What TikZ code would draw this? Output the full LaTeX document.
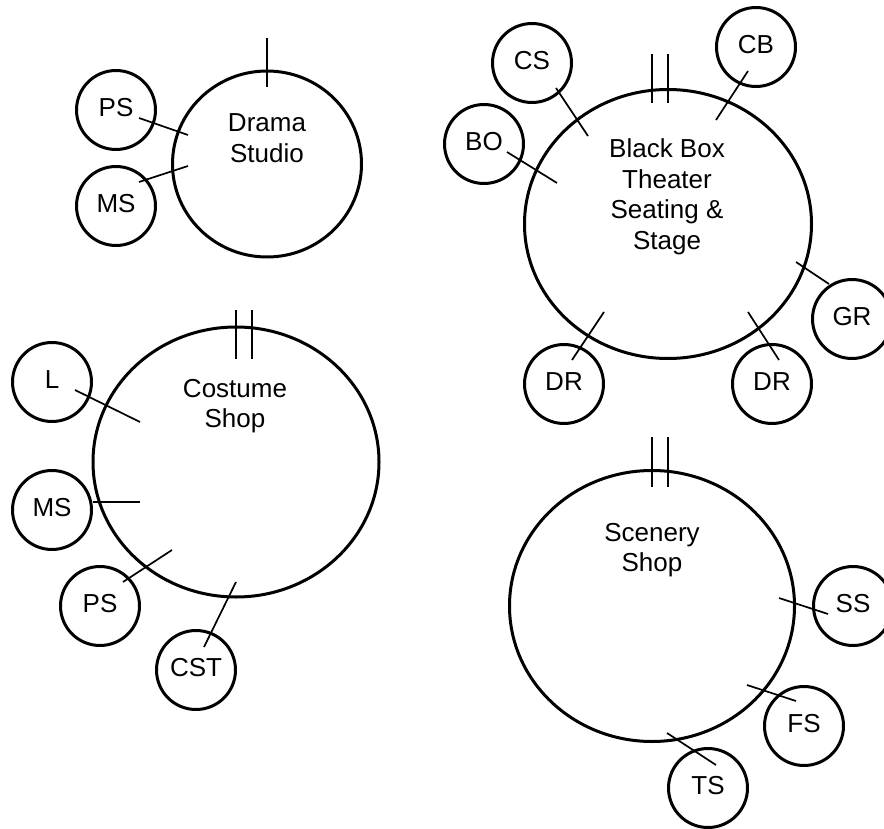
\documentclass[tikz,border=0pt]{standalone}
\usepackage{fontspec}
\setmainfont{Liberation Sans}
\usetikzlibrary{shapes.geometric}
\begin{document}
\begin{tikzpicture}[x=1pt,y=-1pt,
  small/.style={draw,circle,line width=3pt,minimum size=79pt,inner sep=0pt,
    font=\fontsize{26}{30.5}\selectfont,text height=18pt,text depth=5pt},
  big/.style={draw,ellipse,line width=3pt,inner sep=0pt},
  lbl/.style={align=center,font=\fontsize{26}{30.5}\selectfont,inner sep=0pt},
  conn/.style={line width=1.7pt},
  tick/.style={line width=1.7pt}]
\useasboundingbox (0,0) rectangle (884,829);
% Drama Studio
\node[big,minimum width=189pt,minimum height=186pt] (ds) at (267,164) {};
\node[lbl] (dst) at (267,138) {Drama\\Studio};
\node[small] (ps1) at (116,110) {PS};
\node[small] (ms1) at (116,206) {MS};
\draw[tick] ([shift={(0,-126)}]ds.center) -- ([shift={(0,-77)}]ds.center);
\draw[conn] ([shift={(23,8)}]ps1.center) -- ([shift={(-79,-29)}]ds.center);
\draw[conn] ([shift={(23,-24)}]ms1.center) -- ([shift={(-79,2)}]ds.center);
% Black Box Theater
\node[big,minimum width=287pt,minimum height=269pt] (bbt) at (668,224) {};
\node[lbl] (bbtt) at (667,197) {Black Box\\Theater\\Seating \&\\Stage};
\node[small] (cs) at (532,63) {CS};
\node[small] (cb) at (756,47) {CB};
\node[small] (bo) at (484,144) {BO};
\node[small] (gr) at (852,319) {GR};
\node[small] (drl) at (564,384) {DR};
\node[small] (drr) at (772,384) {DR};
\draw[tick] ([shift={(-16,-170)}]bbt.center) -- ([shift={(-16,-121)}]bbt.center);
\draw[tick] ([shift={(0,-170)}]bbt.center) -- ([shift={(0,-121)}]bbt.center);
\draw[conn] ([shift={(24,25)}]cs.center) -- ([shift={(-80,-88)}]bbt.center);
\draw[conn] ([shift={(-8,24)}]cb.center) -- ([shift={(48,-104)}]bbt.center);
\draw[conn] ([shift={(23,8)}]bo.center) -- ([shift={(-111,-41)}]bbt.center);
\draw[conn] ([shift={(-23,-35)}]gr.center) -- ([shift={(128,38)}]bbt.center);
\draw[conn] ([shift={(8,-24)}]drl.center) -- ([shift={(-64,88)}]bbt.center);
\draw[conn] ([shift={(7,-24)}]drr.center) -- ([shift={(80,88)}]bbt.center);
% Costume Shop
\node[big,minimum width=286pt,minimum height=270pt] (csh) at (236,462) {};
\node[lbl] (csht) at (235,406) {Costume\\Shop};
\node[small] (l) at (52,382) {L};
\node[small] (ms2) at (52,510) {MS};
\node[small] (ps2) at (100,606) {PS};
\node[small] (cst) at (196,670) {CST};
\draw[tick] ([shift={(0,-152)}]csh.center) -- ([shift={(0,-103)}]csh.center);
\draw[tick] ([shift={(16,-152)}]csh.center) -- ([shift={(16,-103)}]csh.center);
\draw[conn] ([shift={(23,8)}]l.center) -- ([shift={(-96,-40)}]csh.center);
\draw[conn] ([shift={(41,-8)}]ms2.center) -- ([shift={(-96,40)}]csh.center);
\draw[conn] ([shift={(23,-24)}]ps2.center) -- ([shift={(-64,88)}]csh.center);
\draw[conn] ([shift={(8,-23)}]cst.center) -- ([shift={(0,120)}]csh.center);
% Scenery Shop
\node[big,minimum width=285pt,minimum height=271pt] (scs) at (652,606) {};
\node[lbl] (scst) at (652,550) {Scenery\\Shop};
\node[small] (ss) at (853,606) {SS};
\node[small] (fs) at (804,726) {FS};
\node[small] (ts) at (708,788) {TS};
\draw[tick] ([shift={(0,-169)}]scs.center) -- ([shift={(0,-119)}]scs.center);
\draw[tick] ([shift={(16,-169)}]scs.center) -- ([shift={(16,-119)}]scs.center);
\draw[conn] ([shift={(-25,8)}]ss.center) -- ([shift={(127,-8)}]scs.center);
\draw[conn] ([shift={(-8,-25)}]fs.center) -- ([shift={(95,79)}]scs.center);
\draw[conn] ([shift={(8,-23)}]ts.center) -- ([shift={(15,127)}]scs.center);
\end{tikzpicture}
\end{document}
